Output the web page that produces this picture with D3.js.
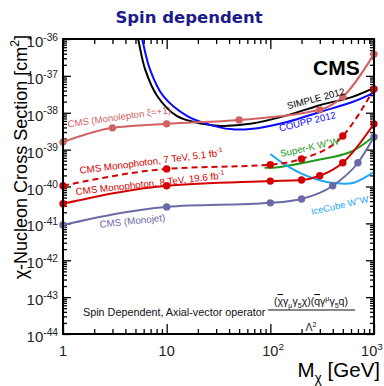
<!DOCTYPE html>
<html><head><meta charset="utf-8">
<script src="https://cdn.jsdelivr.net/npm/d3@7"></script>
<style>
body{margin:0;background:#fff}
svg{display:block}
text{font-family:"Liberation Sans",Arial,Helvetica,sans-serif}
</style>
</head><body>
<svg id="chart" width="384" height="386"></svg>
<script>
// ---------------- data ----------------
const massTicks = [1, 10, 100, 1000];
const massTickLabels = [["1", ""], ["10", ""], ["10", "2"], ["10", "3"]];
const sigmaTickExps = [-36, -37, -38, -39, -40, -41, -42, -43, -44];

const monoleptonMass  = [1, 3, 10, 50, 300, 500, 1000];
const monoleptonSigma = [1.6e-39, 3.9e-39, 5e-39, 6.4e-39, 1.2e-38, 2.7e-38, 3.9e-37];

const monophoton7Mass  = [1, 10, 100, 200, 500, 1000];
const monophoton7Sigma = [1.05e-40, 3e-40, 3.9e-40, 5.6e-40, 2.35e-39, 4.4e-38];

const monophoton8Mass  = [1, 10, 100, 200, 300, 500, 1000];
const monophoton8Sigma = [3.4e-41, 1.05e-40, 1.4e-40, 1.5e-40, 1.95e-40, 4.4e-40, 5e-39];

const monojetMass  = [1, 10, 100, 200, 400, 700, 1000];
const monojetSigma = [9e-42, 2.8e-41, 3.6e-41, 4.6e-41, 1.05e-40, 4.4e-40, 2.2e-39];

const simpleMass  = [4.8, 5.3, 6.2, 8.1, 12.6, 22.5, 33, 64, 145, 300, 620, 1000];
const simpleSigma = [3e-36, 1e-36, 1.5e-37, 2.85e-38, 8.1e-39, 5e-39, 4.4e-39, 5e-39, 8.5e-39, 1.6e-38, 2.7e-38, 4.7e-38];

const couppMass  = [5.3, 5.8, 6.9, 9.25, 15.8, 26.3, 41, 64, 145, 300, 620, 1000];
const couppSigma = [3e-36, 1e-36, 1.5e-37, 2.85e-38, 8.1e-39, 4.7e-39, 3.6e-39, 3.6e-39, 5.6e-39, 1.05e-38, 1.95e-38, 3.5e-38];

const superKMass  = [88, 125, 284, 593, 1000];
const superKSigma = [3.2e-40, 3.4e-40, 5.2e-40, 8.6e-40, 2.3e-39];

const iceCubeMass  = [100, 132, 195, 282, 405, 627, 1000];
const iceCubeSigma = [7.6e-40, 4.3e-40, 2.3e-40, 1.55e-40, 1.25e-40, 1.25e-40, 2.5e-40];

// label texts
const monoleptonLabel  = [{t:"CMS (Monolepton ξ=+1)"}];
const monophoton7Label = [{t:"CMS Monophoton, 7 TeV, 5.1 fb"},{t:"-1",s:"sup"}];
const monophoton8Label = [{t:"CMS Monophoton, 8 TeV, 19.6 fb"},{t:"-1",s:"sup"}];
const monojetLabel     = [{t:"CMS (Monojet)"}];
const simpleLabel      = [{t:"SIMPLE 2012"}];
const couppLabel       = [{t:"COUPP 2012"}];
const superKLabel      = [{t:"Super-K W"},{t:"+",s:"sup"},{t:"W"},{t:"-",s:"sup"}];
const iceCubeLabel     = [{t:"IceCube W"},{t:"+",s:"sup"},{t:"W"},{t:"-",s:"sup"}];

// ---------------- layout ----------------
const svg = d3.select("#chart");
const L = 63, R = 374, T = 39, B = 334;
const x = d3.scaleLog().domain([1, 1000]).range([L, R]);
const y = d3.scaleLog().domain([1e-44, 1e-36]).range([B, T]);

function rich(sel, parts, size) {
  let cur = 0;
  parts.forEach(p => {
    let target = 0, fs = size;
    if (p.s === "sup") { target = -0.42 * size; fs = size * 0.68; }
    if (p.s === "sub") { target = 0.3 * size; fs = size * 0.68; }
    const ts = sel.append("tspan").attr("dy", (target - cur).toFixed(2)).attr("font-size", fs).text(p.t);
    if (p.over) ts.style("text-decoration", "overline");
    cur = target;
  });
}

// title
svg.append("text").attr("x", 189).attr("y", 23).attr("text-anchor", "middle")
  .style("font-family", "'DejaVu Sans', sans-serif").attr("font-weight", "bold")
  .attr("font-size", 16.5).attr("fill", "#1b1b8a").text("Spin dependent");

// clip
svg.append("clipPath").attr("id", "plotclip").append("rect")
  .attr("x", L).attr("y", T).attr("width", R - L).attr("height", B - T);

// ticks
const xMinor = [];
[1, 10, 100].forEach(d => { for (let j = 2; j <= 9; j++) xMinor.push(d * j); });
const yMajor = sigmaTickExps.map(e => Math.pow(10, e));
const yMinor = [];
for (let e = -44; e < -36; e++) for (let j = 2; j <= 9; j++) yMinor.push(j * Math.pow(10, e));

function addAxis(gen, tf, vals, size) {
  const g = svg.append("g").attr("transform", tf)
    .call(gen.tickValues(vals).tickSize(-size).tickFormat(""));
  g.select(".domain").remove();
  g.selectAll("line").attr("stroke", "#000").attr("stroke-width", 1.3);
}
addAxis(d3.axisBottom(x), `translate(0,${B})`, massTicks, 10);
addAxis(d3.axisBottom(x), `translate(0,${B})`, xMinor, 5);
addAxis(d3.axisTop(x), `translate(0,${T})`, massTicks, 10);
addAxis(d3.axisTop(x), `translate(0,${T})`, xMinor, 5);
addAxis(d3.axisLeft(y), `translate(${L},0)`, yMajor, 8);
addAxis(d3.axisLeft(y), `translate(${L},0)`, yMinor, 4);
addAxis(d3.axisRight(y), `translate(${R},0)`, yMajor, 8);
addAxis(d3.axisRight(y), `translate(${R},0)`, yMinor, 4);

// curves
const lineMono = d3.line().x(d => x(d[0])).y(d => y(d[1])).curve(d3.curveMonotoneX);
const lineCR = d3.line().x(d => x(d[0])).y(d => y(d[1])).curve(d3.curveCatmullRom.alpha(0.5));
const curves = svg.append("g").attr("clip-path", "url(#plotclip)");
function drawCurve(ms, ss, color, dash, gen) {
  curves.append("path").datum(d3.zip(ms, ss)).attr("d", gen || lineMono)
    .attr("fill", "none").attr("stroke", color).attr("stroke-width", 2)
    .attr("stroke-dasharray", dash || null);
}
function drawDots(ms, ss, color) {
  svg.append("g").selectAll("circle").data(d3.zip(ms, ss)).join("circle")
    .attr("cx", d => x(d[0])).attr("cy", d => y(d[1])).attr("r", 3.7).attr("fill", color);
}
const cLepton = "#d26262", cPhoton = "#d40000", cJet = "#6a6aa6";
const cSimple = "#000000", cCoupp = "#0a0aff", cSuperK = "#1e9a1e", cIce = "#1ea6f5";

drawCurve(simpleMass, simpleSigma, cSimple, null, lineCR);
drawCurve(couppMass, couppSigma, cCoupp, null, lineCR);
drawCurve(superKMass, superKSigma, cSuperK, null, lineCR);
drawCurve(iceCubeMass, iceCubeSigma, cIce, null, lineCR);
drawCurve(monoleptonMass, monoleptonSigma, cLepton);
drawCurve(monojetMass, monojetSigma, cJet);
drawCurve(monophoton8Mass, monophoton8Sigma, cPhoton);
drawCurve(monophoton7Mass, monophoton7Sigma, cPhoton, "6,4");
drawDots(monoleptonMass, monoleptonSigma, cLepton);
drawDots(monojetMass, monojetSigma, cJet);
drawDots(monophoton8Mass, monophoton8Sigma, cPhoton);
drawDots(monophoton7Mass, monophoton7Sigma, cPhoton);

// frame
svg.append("rect").attr("x", L).attr("y", T).attr("width", R - L).attr("height", B - T)
  .attr("fill", "none").attr("stroke", "#000").attr("stroke-width", 2);

// curve labels (anchored in data coordinates)
function label(parts, m, s, ang, color, size) {
  const t = svg.append("text").attr("transform", `translate(${x(m)},${y(s)}) rotate(${ang})`)
    .attr("fill", color).attr("font-size", size);
  rich(t, parts, size);
}
label(monoleptonLabel, 1.12, 4.0e-39, -8, cLepton, 9.6);
label(monophoton7Label, 1.46, 2.2e-40, -7.2, cPhoton, 9.8);
label(monophoton8Label, 1.335, 5.9e-41, -6.3, cPhoton, 9.8);
label(monojetLabel, 2.27, 7.6e-42, -6, cJet, 9.8);
label(simpleLabel, 148, 1.25e-38, -14.5, cSimple, 9.6);
label(couppLabel, 124, 3.1e-39, -13.5, cCoupp, 9.6);
label(superKLabel, 127, 6.3e-40, -12.5, cSuperK, 9.6);
label(iceCubeLabel, 252, 1.7e-41, -12.5, cIce, 9.3);

// CMS
svg.append("text").attr("x", 313).attr("y", 75).attr("font-weight", "bold")
  .attr("font-size", 21).attr("fill", "#000").text("CMS");

// tick labels x
massTicks.forEach((m, i) => {
  const [base, sup] = massTickLabels[i];
  const fs = 14.5;
  const w = base.length * 0.556 * fs;
  const t = svg.append("text").attr("x", Math.min(x(m) - w / 2, 383 - w - 0.4 * fs * sup.length))
    .attr("y", 356).attr("font-size", fs).attr("fill", "#222");
  rich(t, sup ? [{t: base}, {t: sup, s: "sup"}] : [{t: base}], fs);
});
// tick labels y
sigmaTickExps.forEach(e => {
  const t = svg.append("text").attr("x", 58).attr("y", y(Math.pow(10, e)) + 8)
    .attr("text-anchor", "end").attr("font-size", 15).attr("fill", "#222");
  rich(t, [{t: "10"}, {t: String(e), s: "sup"}], 15);
});

// axis titles
const xt = svg.append("text").attr("x", 380).attr("y", 377).attr("text-anchor", "end")
  .attr("font-size", 20.5).attr("fill", "#000");
rich(xt, [{t: "M"}, {t: "χ", s: "sub"}, {t: " [GeV]"}], 20.5);

const yt = svg.append("text").attr("transform", "translate(27,35) rotate(-90)")
  .attr("text-anchor", "end").attr("font-size", 18).attr("fill", "#000");
rich(yt, [{t: "χ-Nucleon Cross Section [cm"}, {t: "2", s: "sup"}, {t: "]"}], 18);

// operator annotation
svg.append("text").attr("x", 83).attr("y", 316).attr("font-size", 10.8).attr("fill", "#111")
  .text("Spin Dependent, Axial-vector operator");
const num = svg.append("text").attr("x", 311).attr("y", 305).attr("text-anchor", "middle")
  .attr("font-size", 10.5).attr("fill", "#111");
rich(num, [{t:"("},{t:"χ",over:true},{t:"γ"},{t:"μ",s:"sub"},{t:"γ"},{t:"5",s:"sub"},{t:"χ)("},
           {t:"q",over:true},{t:"γ"},{t:"μ",s:"sup"},{t:"γ"},{t:"5",s:"sub"},{t:"q)"}], 10.5);
svg.append("line").attr("x1", 268).attr("x2", 355).attr("y1", 310).attr("y2", 310)
  .attr("stroke", "#111").attr("stroke-width", 1);
const den = svg.append("text").attr("x", 311).attr("y", 331).attr("text-anchor", "middle")
  .attr("font-size", 10.5).attr("fill", "#111");
rich(den, [{t:"Λ"},{t:"2",s:"sup"}], 10.5);
</script>
</body></html>
